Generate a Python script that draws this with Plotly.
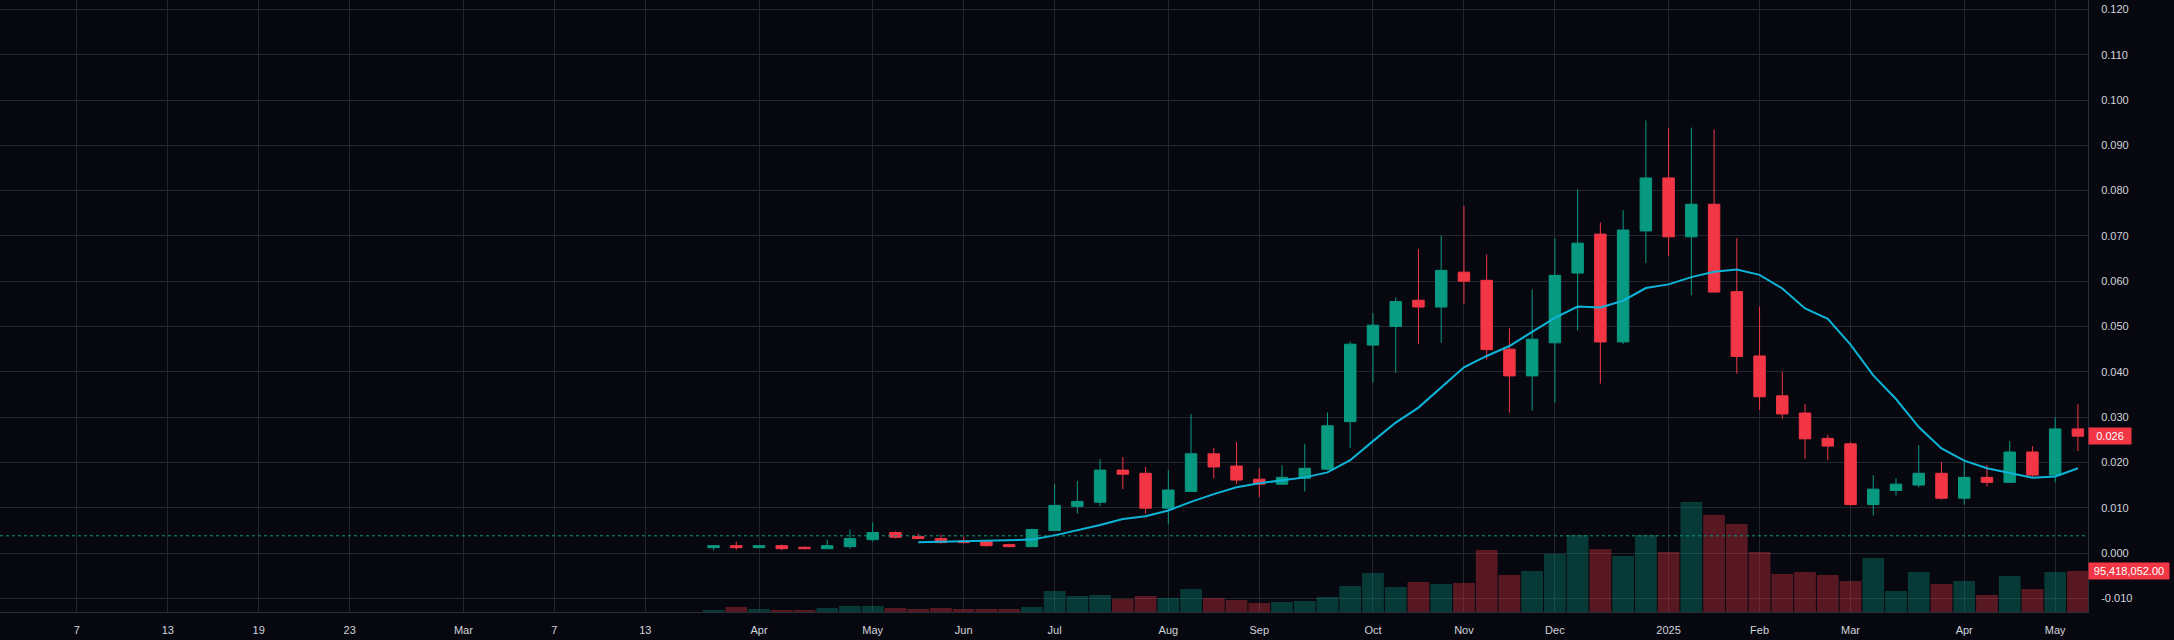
import plotly.graph_objects as go

# ---------------- data (weekly candles, index 0 = week of 1 Apr 2024) ----------------
week_index = list(range(-2, 59))

opens = [0.00119, 0.00163, 0.00119, 0.00163, 0.00126, 0.00096, 0.00141, 0.00296, 0.00452, 0.00363,
         0.00319, 0.00267, 0.00252, 0.00185, 0.00141, 0.00496, 0.0103, 0.0112, 0.0183, 0.0176,
         0.0099, 0.0136, 0.0219, 0.0192, 0.0163, 0.0152, 0.0165, 0.0185, 0.0290, 0.0459,
         0.0500, 0.0558, 0.0543, 0.0620, 0.0602, 0.0450, 0.0391, 0.0464, 0.0618, 0.0704,
         0.0466, 0.0711, 0.0828, 0.0698, 0.0770, 0.0577, 0.0435, 0.0347, 0.0309, 0.0253,
         0.0241, 0.0107, 0.0138, 0.0150, 0.0176, 0.0121, 0.0167, 0.0156, 0.0223, 0.0172,
         0.0274]
highs = [0.00170, 0.00252, 0.00170, 0.00185, 0.00148, 0.00296, 0.00519, 0.00674, 0.00474, 0.00430,
         0.00407, 0.00363, 0.00274, 0.00207, 0.00540, 0.01520, 0.0159, 0.0207, 0.0212, 0.0190,
         0.0183, 0.0307, 0.0232, 0.0245, 0.0187, 0.0194, 0.0241, 0.0310, 0.0467, 0.0530,
         0.0564, 0.0671, 0.0701, 0.0766, 0.0659, 0.0496, 0.0582, 0.0695, 0.0803, 0.0730,
         0.0757, 0.0955, 0.0939, 0.0939, 0.0935, 0.0695, 0.0544, 0.0400, 0.0329, 0.0261,
         0.0245, 0.0172, 0.0165, 0.0238, 0.0201, 0.0201, 0.0194, 0.0247, 0.0236, 0.0300,
         0.0329]
lows = [0.00059, 0.00074, 0.00115, 0.00059, 0.00081, 0.00096, 0.00096, 0.00252, 0.00319, 0.00319,
        0.00207, 0.00207, 0.00141, 0.00126, 0.00141, 0.00496, 0.0087, 0.0103, 0.0141, 0.0087,
        0.0063, 0.0136, 0.0165, 0.0152, 0.0123, 0.0150, 0.0136, 0.0183, 0.0232, 0.0376,
        0.0398, 0.0461, 0.0464, 0.0550, 0.0427, 0.0310, 0.0314, 0.0332, 0.0491, 0.0374,
        0.0461, 0.0640, 0.0656, 0.0569, 0.0576, 0.0396, 0.0316, 0.0296, 0.0208, 0.0205,
        0.0104, 0.0083, 0.0127, 0.0145, 0.0118, 0.0107, 0.0147, 0.0156, 0.0167, 0.0156,
        0.0225]
closes = [0.00163, 0.00119, 0.00163, 0.00096, 0.00096, 0.00163, 0.00319, 0.00452, 0.00348, 0.00319,
          0.00230, 0.00230, 0.00163, 0.00141, 0.00519, 0.01052, 0.0114, 0.0183, 0.0174, 0.0099,
          0.0139, 0.0219, 0.0190, 0.0161, 0.0152, 0.0167, 0.0187, 0.0281, 0.0461, 0.0503,
          0.0555, 0.0543, 0.0624, 0.0600, 0.0449, 0.0391, 0.0472, 0.0613, 0.0684, 0.0466,
          0.0713, 0.0828, 0.0698, 0.0770, 0.0576, 0.0434, 0.0345, 0.0307, 0.0252, 0.0236,
          0.0107, 0.0141, 0.0152, 0.0176, 0.0121, 0.0167, 0.0156, 0.0223, 0.0172, 0.0274,
          0.0258]
volumes_m = [4.7, 11.6, 7.0, 4.7, 4.7, 9.3, 14.0, 14.0, 9.3, 7.0,
             9.3, 7.0, 7.0, 7.0, 11.6, 48.9, 37.2, 39.6, 30.3, 37.2,
             32.6, 53.5, 32.6, 27.9, 20.9, 23.3, 25.6, 34.9, 60.5, 90.8,
             58.2, 69.8, 65.2, 67.5, 144.3, 86.1, 95.4, 135.0, 179.2, 146.6,
             130.3, 179.2, 139.6, 256.0, 225.7, 204.8, 139.6, 88.4, 93.1, 86.1,
             72.1, 125.7, 48.9, 93.1, 65.2, 72.1, 39.6, 83.8, 53.5, 93.1,
             95.418052]

ema_index = list(range(7, 59))
ema_values = [0.00240, 0.00252, 0.00260, 0.00267, 0.00274, 0.00296, 0.0039, 0.0050, 0.0062, 0.0075,
              0.0081, 0.0094, 0.0113, 0.0130, 0.0145, 0.0154, 0.0161, 0.0167, 0.0178, 0.0205,
              0.0247, 0.0288, 0.0321, 0.0365, 0.0410, 0.0435, 0.0457, 0.0488, 0.0519, 0.0544,
              0.0542, 0.0557, 0.0585, 0.0593, 0.0609, 0.0621, 0.0626, 0.0614, 0.0584, 0.0540,
              0.0517, 0.0460, 0.0392, 0.0340, 0.0278, 0.0231, 0.0204, 0.0187, 0.0176, 0.0166,
              0.0169, 0.0187]

tick_index = [-30, -26, -22, -18, -13, -9, -5, 0, 5, 9, 13, 18, 22, 27, 31, 35, 40, 44, 48, 53, 57]
tick_labels = ["7", "13", "19", "23", "Mar", "7", "13", "Apr", "May", "Jun", "Jul", "Aug", "Sep",
               "Oct", "Nov", "Dec", "2025", "Feb", "Mar", "Apr", "May"]

price_ticks = [-0.010, 0.000, 0.010, 0.020, 0.030, 0.040, 0.050, 0.060, 0.070, 0.080, 0.090, 0.100, 0.110, 0.120]
price_tick_labels = ["-0.010", "0.000", "0.010", "0.020", "0.030", "0.040", "0.050", "0.060", "0.070",
                     "0.080", "0.090", "0.100", "0.110", "0.120"]

last_price_label = "0.026"
last_volume_label = "95,418,052.00"
ref_line_price = 0.0038

# ---------------- styling ----------------
BG = "#07080f"
GRID = "#22262f"
AXLINE = "#2a2e39"
TXT = "#d1d4dc"
UP = "#089981"
DOWN = "#F23645"
UP_VOL = "rgba(8,153,129,0.35)"
DOWN_VOL = "rgba(242,54,69,0.35)"
EMA_COLOR = "#0cb4d8"
FONT = "Liberation Sans, Arial, sans-serif"

W, H = 2174, 640
MR, MB = 86, 28
plot_w = W - MR
plot_h = H - MB
px_per_week = 22.74
x_at_zero = 759.0
x_range = [-x_at_zero / px_per_week, (plot_w - x_at_zero) / px_per_week]
y_range = [-0.01302, 0.12208]
vol_per_px = 2.327e6
vol_range = [0, plot_h * vol_per_px]

volumes = [v * 1e6 for v in volumes_m]
vol_colors = [UP_VOL if c >= o else DOWN_VOL for o, c in zip(opens, closes)]

fig = go.Figure()

fig.add_trace(go.Bar(
    x=week_index, y=volumes, marker=dict(color=vol_colors, line=dict(width=0)),
    xaxis="x", yaxis="y", hoverinfo="skip", showlegend=False,
))

fig.add_trace(go.Candlestick(
    x=week_index, open=opens, high=highs, low=lows, close=closes,
    increasing=dict(line=dict(color=UP, width=1), fillcolor=UP),
    decreasing=dict(line=dict(color=DOWN, width=1), fillcolor=DOWN),
    whiskerwidth=0, xaxis="x", yaxis="y2", showlegend=False,
))

fig.add_trace(go.Scatter(
    x=ema_index, y=ema_values, mode="lines",
    line=dict(color=EMA_COLOR, width=2), xaxis="x", yaxis="y2",
    hoverinfo="skip", showlegend=False,
))

fig.add_shape(type="line", xref="paper", x0=0, x1=1, yref="y2",
              y0=ref_line_price, y1=ref_line_price,
              line=dict(color=UP, width=1, dash="dot"), layer="above")

fig.add_annotation(xref="paper", x=1, xanchor="left", yref="y2", y=closes[-1], yanchor="middle",
                   text=last_price_label, showarrow=False, bgcolor=DOWN,
                   font=dict(color="#ffffff", size=11, family=FONT),
                   width=42, height=16, borderpad=0, align="center")
fig.add_annotation(xref="paper", x=1, xanchor="left", yref="y", y=volumes[-1], yanchor="middle",
                   text=last_volume_label, showarrow=False, bgcolor=DOWN,
                   font=dict(color="#ffffff", size=11, family=FONT),
                   width=80, height=16, borderpad=0, align="center")

fig.update_layout(
    width=W, height=H,
    margin=dict(l=0, r=MR, t=0, b=MB, pad=0),
    paper_bgcolor=BG, plot_bgcolor=BG,
    font=dict(family=FONT, color=TXT, size=11),
    bargap=0.045, boxgap=0.28,
    showlegend=False,
    xaxis=dict(
        range=x_range, tickmode="array", tickvals=tick_index, ticktext=tick_labels,
        showgrid=True, gridcolor=GRID, gridwidth=1, zeroline=False,
        showline=True, linecolor=AXLINE, linewidth=1, ticks="",
        ticklabelstandoff=8, tickfont=dict(size=11, color=TXT),
        rangeslider=dict(visible=False), fixedrange=True,
    ),
    yaxis=dict(range=vol_range, visible=False, showgrid=False, zeroline=False, fixedrange=True),
    yaxis2=dict(
        overlaying="y", side="right", range=y_range,
        tickmode="array", tickvals=price_ticks, ticktext=price_tick_labels,
        showgrid=True, gridcolor=GRID, gridwidth=1, zeroline=False,
        showline=True, linecolor=AXLINE, linewidth=1, ticks="",
        ticklabelstandoff=10, tickfont=dict(size=11, color=TXT), fixedrange=True,
    ),
)

fig.write_html("out.html")
